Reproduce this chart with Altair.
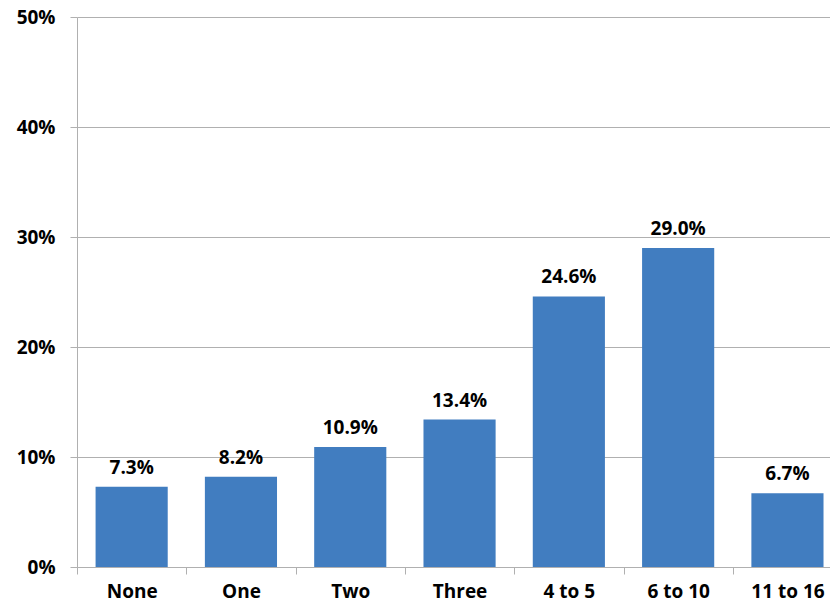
import json
import altair as alt
import pandas as pd

categories = ["None", "One", "Two", "Three", "4 to 5", "6 to 10", "11 to 16"]
values = [7.3, 8.2, 10.9, 13.4, 24.6, 29.0, 6.7]
labels = ["7.3%", "8.2%", "10.9%", "13.4%", "24.6%", "29.0%", "6.7%"]

df = pd.DataFrame({
    "cat": categories,
    "pos": list(range(len(categories))),
    "val": [v / 100 for v in values],
    "lab": labels,
})

FONT = "Open Sans"
FS = 19
GRAY = "#B0B0B0"
W = 753
STEP = 109.3
HALF_BAR = 0.33

xscale = alt.Scale(domain=[0, W / STEP], zero=False, nice=False)
yscale = alt.Scale(domain=[0, 0.5])

cats_js = json.dumps(categories)
tick_vals = [i * 0.5 for i in range(0, 14)]

base = alt.Chart(df).transform_calculate(
    x0=f"datum.pos + 0.5 - {HALF_BAR}",
    x1=f"datum.pos + 0.5 + {HALF_BAR}",
    xc="datum.pos + 0.5",
)

bars = base.mark_bar(color="#417DC0").encode(
    x=alt.X("x0:Q", scale=xscale, title=None,
            axis=alt.Axis(values=tick_vals, grid=False, domain=True, domainColor=GRAY,
                          ticks=True, tickColor=GRAY,
                          tickSize={"expr": "datum.value % 1 === 0 ? 7 : 0"},
                          labelExpr=f"datum.value % 1 === 0.5 ? {cats_js}[floor(datum.value)] : ''",
                          labelOverlap=False, labelFlush=False, labelAngle=0,
                          labelFont=FONT, labelFontSize=FS, labelFontWeight="bold",
                          labelColor="black", labelPadding=15)),
    x2="x1:Q",
    y=alt.Y("val:Q", scale=yscale, title=None,
            axis=alt.Axis(values=[0, 0.1, 0.2, 0.3, 0.4, 0.5], format=".0%",
                          grid=True, gridColor=GRAY, domain=True, domainColor=GRAY,
                          ticks=True, tickSize=7, tickColor=GRAY, labelFont=FONT,
                          labelFontSize=FS, labelFontWeight="bold", labelColor="black",
                          labelPadding=15)),
    y2=alt.datum(0),
)

text = base.mark_text(font=FONT, fontSize=FS, fontWeight="bold", color="black",
                      baseline="alphabetic", dy=-13).encode(
    x=alt.X("xc:Q", scale=xscale),
    y=alt.Y("val:Q", scale=yscale),
    text="lab:N",
)

chart = alt.layer(bars, text).properties(
    width=W, height=550,
    autosize=alt.AutoSizeParams(type="none"),
    padding={"left": 69, "top": 9, "right": 0, "bottom": 36},
).configure_view(stroke=None)

chart.save("out.html", embed_options={"renderer": "svg", "actions": False})
